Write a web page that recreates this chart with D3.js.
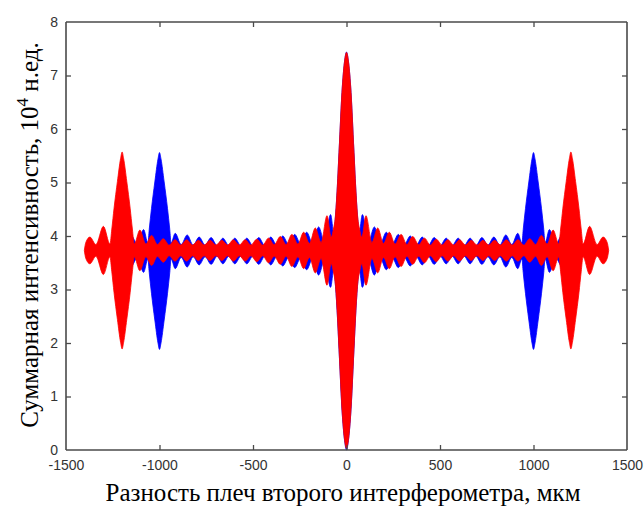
<!DOCTYPE html>
<html><head><meta charset="utf-8">
<script src="https://cdn.jsdelivr.net/npm/d3@7"></script>
<style>body{margin:0;background:#fff}svg{display:block}</style>
</head><body>
<svg id="c" width="644" height="506"></svg>
<script>
// Axis ticks
const xTicks = [-1500, -1000, -500, 0, 500, 1000, 1500];
const yTicks = [0, 1, 2, 3, 4, 5, 6, 7, 8];

// Mean (baseline) level of each series, 10^4 a.u.
const redBase = 3.73;
const blueBase = 3.72;

// Red series: path difference (um) and envelope half-amplitude (10^4 a.u.)
const redX = [
  -1402,-1394,-1372,-1340,-1300,-1265,-1255,-1243,-1225,-1208,-1200,-1192,-1175,-1157,-1145,-1135,
  -1105,-1073,-1042,-1011,-980,-948,-917,-886,-855,-823,-792,-761,-730,-698,-667,-636,-605,-573,
  -542,-511,-480,-448,-417,-386,-354,-323,-292,-260,-229,-198,-167,-136,-104,-82,-70,-60,-49,-40,-22,-10,
  0,
  10,22,40,49,60,70,82,104,136,167,198,229,260,292,323,354,386,417,448,480,511,542,
  573,605,636,667,698,730,761,792,823,855,886,917,948,980,1011,1042,1073,1105,
  1135,1145,1157,1175,1192,1200,1208,1225,1243,1255,1265,1300,1340,1372,1394,1402
];
const redAmp = [
  0,0.15,0.25,0.11,0.45,0.12,0.4,0.79,1.29,1.72,1.84,1.72,1.29,0.79,0.4,0.12,
  0.38,0.12,0.28,0.11,0.22,0.1,0.2,0.1,0.2,0.1,0.19,0.1,0.19,0.1,0.19,0.1,0.2,0.1,
  0.2,0.1,0.21,0.1,0.23,0.11,0.26,0.11,0.3,0.12,0.34,0.13,0.42,0.15,0.65,0.25,0.4,0.62,1.2,1.84,3.08,3.55,
  3.7,
  3.55,3.08,1.84,1.2,0.62,0.4,0.25,0.65,0.15,0.42,0.13,0.34,0.12,0.3,0.11,0.26,0.11,0.23,0.1,0.21,0.1,0.2,
  0.1,0.2,0.1,0.19,0.1,0.19,0.1,0.19,0.1,0.2,0.1,0.2,0.1,0.22,0.11,0.28,0.12,0.38,
  0.12,0.4,0.79,1.29,1.72,1.84,1.72,1.29,0.79,0.4,0.12,0.45,0.11,0.25,0.15,0
];

// Blue series
const blueX = [
  -1240,-1215,-1180,-1150,-1118,-1085,-1062,-1055,-1043,-1025,-1008,-1000,-992,-975,-957,-945,-938,
  -916,-884,-852,-820,-788,-756,-724,-692,-661,-629,-597,-565,-533,-501,-469,-437,-405,-373,
  -341,-309,-277,-245,-213,-181,-149,-117,-85,-68,-60,-49,-40,-22,-10,
  0,
  10,22,40,49,60,68,85,117,149,181,213,245,277,309,341,
  373,405,437,469,501,533,565,597,629,661,692,724,756,788,820,852,884,916,
  938,945,957,975,992,1000,1008,1025,1043,1055,1062,1085,1118,1150,1180,1215,1240
];
const blueAmp = [
  0.05,0.2,0.15,0.28,0.12,0.4,0.15,0.4,0.79,1.29,1.72,1.84,1.72,1.29,0.79,0.4,0.15,
  0.33,0.12,0.3,0.11,0.26,0.11,0.25,0.1,0.24,0.1,0.24,0.1,0.24,0.1,0.25,0.1,0.26,0.11,
  0.28,0.12,0.31,0.13,0.35,0.14,0.45,0.16,0.68,0.35,0.6,1.2,1.84,3.08,3.55,
  3.72,
  3.55,3.08,1.84,1.2,0.6,0.35,0.68,0.16,0.45,0.14,0.35,0.13,0.31,0.12,0.28,
  0.11,0.26,0.1,0.25,0.1,0.24,0.1,0.24,0.1,0.24,0.1,0.25,0.11,0.26,0.11,0.3,0.12,0.33,
  0.15,0.4,0.79,1.29,1.72,1.84,1.72,1.29,0.79,0.4,0.15,0.4,0.12,0.28,0.15,0.2,0.05
];

const xLabel = "Разность плеч второго интерферометра, мкм";
const yLabelMain = "Суммарная интенсивность, 10";
const yLabelSup = "4";
const yLabelTail = " н.ед.";

const m = {left: 66, right: 627, top: 22, bottom: 450};
const svg = d3.select("#c");

const x = d3.scaleLinear().domain([-1500, 1500]).range([m.left, m.right]);
const y = d3.scaleLinear().domain([0, 8]).range([m.bottom, m.top]);

function band(xs, amps, base) {
  return xs.map((v, i) => ({x: v, a: amps[i], b: base}));
}
const area = d3.area()
  .x(d => x(d.x))
  .y0(d => y(d.b - d.a))
  .y1(d => y(d.b + d.a))
  .curve(d3.curveMonotoneX);

svg.append("path").datum(band(blueX, blueAmp, blueBase))
  .attr("d", area).attr("fill", "#0000ff").attr("stroke", "#0000ff").attr("stroke-width", 0.8);
svg.append("path").datum(band(redX, redAmp, redBase))
  .attr("d", area).attr("fill", "#ff0000").attr("stroke", "#ff0000").attr("stroke-width", 0.8);

// Axes box with inward ticks (MATLAB style)
const axColor = "#4a4a4a";
const tickLen = 5;
const fmt = d => String(d);
const gx = svg.append("g").attr("transform", `translate(0,${m.bottom})`)
  .call(d3.axisBottom(x).tickValues(xTicks).tickSize(-tickLen).tickPadding(10).tickFormat(fmt));
const gxt = svg.append("g").attr("transform", `translate(0,${m.top})`)
  .call(d3.axisTop(x).tickValues(xTicks).tickSize(-tickLen).tickFormat(""));
const gy = svg.append("g").attr("transform", `translate(${m.left},0)`)
  .call(d3.axisLeft(y).tickValues(yTicks).tickSize(-tickLen).tickPadding(8).tickFormat(fmt));
const gyr = svg.append("g").attr("transform", `translate(${m.right},0)`)
  .call(d3.axisRight(y).tickValues(yTicks).tickSize(-tickLen).tickFormat(""));
[gx, gxt, gy, gyr].forEach(g => {
  g.selectAll(".domain").attr("stroke", axColor).attr("stroke-width", 1.6);
  g.selectAll(".tick line").attr("stroke", axColor).attr("stroke-width", 1.3);
  g.selectAll("text").attr("fill", "#333").attr("font-family", "Liberation Sans, Arial, sans-serif").attr("font-size", 14);
});
gx.selectAll(".tick line").filter(d => d === -1500 || d === 1500).remove();
gxt.selectAll(".tick line").filter(d => d === -1500 || d === 1500).remove();
gy.selectAll(".tick line").filter(d => d === 0 || d === 8).remove();
gyr.selectAll(".tick line").filter(d => d === 0 || d === 8).remove();
gx.selectAll(".domain").attr("d", `M${m.left},0H${m.right}`);
gxt.selectAll(".domain").attr("d", `M${m.left},0H${m.right}`);
gy.selectAll(".domain").attr("d", `M0,${m.bottom}V${m.top}`);
gyr.selectAll(".domain").attr("d", `M0,${m.bottom}V${m.top}`);

// Axis titles
svg.append("text").attr("x", (103 + 583) / 2).attr("y", 501)
  .attr("text-anchor", "middle").attr("font-family", "Liberation Serif, Times New Roman, serif")
  .attr("font-size", 25).attr("fill", "#000").text(xLabel);

const yl = svg.append("text").attr("transform", `translate(38,${(30 + 440) / 2}) rotate(-90)`)
  .attr("text-anchor", "middle").attr("font-family", "Liberation Serif, Times New Roman, serif")
  .attr("font-size", 25).attr("fill", "#000");
yl.append("tspan").text(yLabelMain);
yl.append("tspan").attr("dy", -10).attr("font-size", 17).text(yLabelSup);
yl.append("tspan").attr("dy", 10).text(yLabelTail);
</script>
</body></html>
